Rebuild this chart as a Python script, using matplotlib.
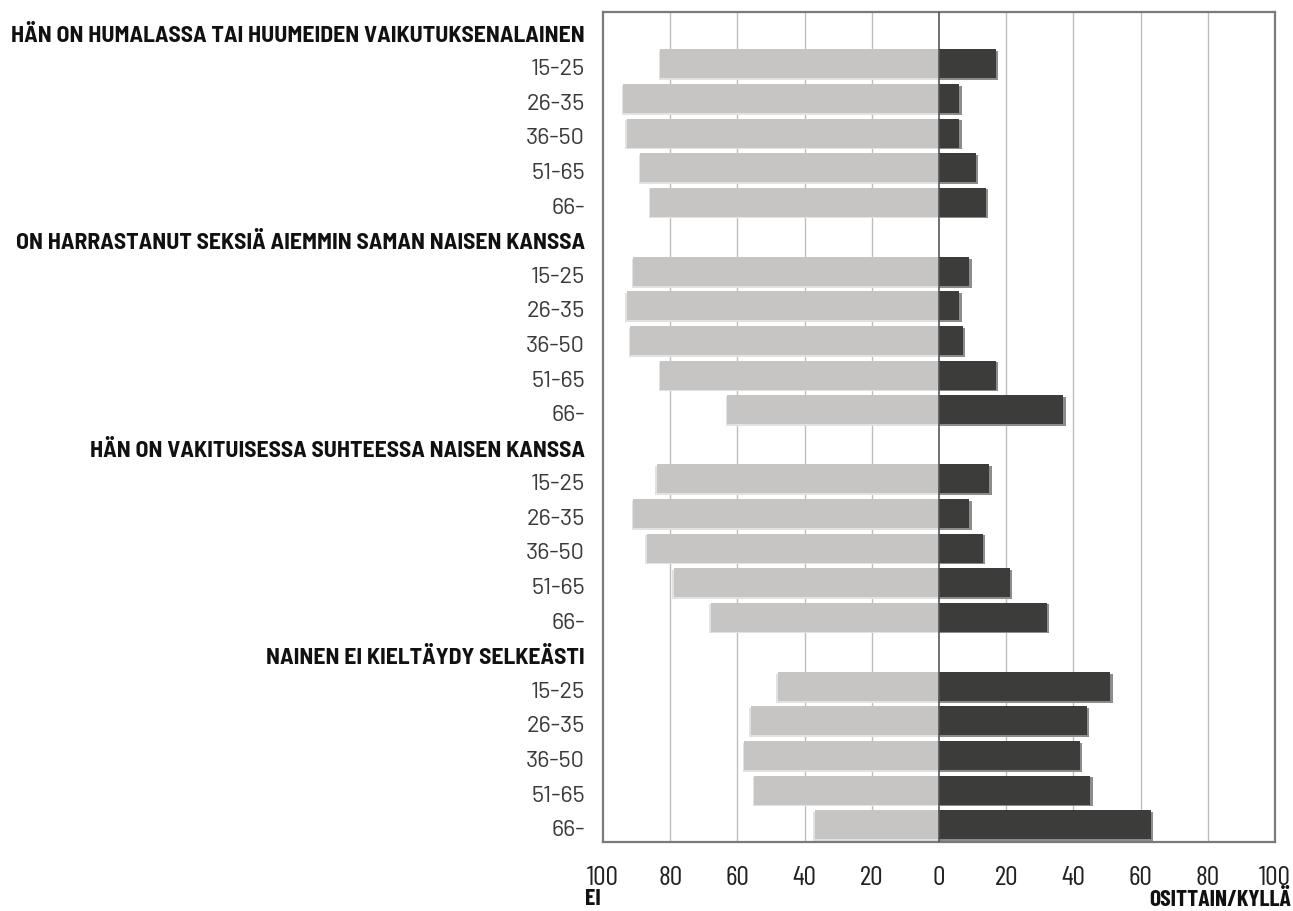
import matplotlib
matplotlib.use("Agg")
import matplotlib.pyplot as plt
import numpy as np

plt.rcParams['font.family'] = ['Barlow Semi Condensed', 'DejaVu Sans']
plt.rcParams['font.stretch'] = 'condensed'
F_HEAD = ['Barlow Semi Condensed', 'DejaVu Sans']
F_AGE = ['Barlow', 'DejaVu Sans']
F_TICK = ['Barlow Condensed', 'DejaVu Sans']

groups = ["HÄN ON HUMALASSA TAI HUUMEIDEN VAIKUTUKSENALAINEN",
          "ON HARRASTANUT SEKSIÄ AIEMMIN SAMAN NAISEN KANSSA",
          "HÄN ON VAKITUISESSA SUHTEESSA NAISEN KANSSA",
          "NAINEN EI KIELTÄYDY SELKEÄSTI"]
ages = ["15-25", "26-35", "36-50", "51-65", "66-"]
ei = [[83, 94, 93, 89, 86],
      [91, 93, 92, 83, 63],
      [84, 91, 87, 79, 68],
      [48, 56, 58, 55, 37]]
kylla = [[17, 6, 6, 11, 14],
         [9, 6, 7, 17, 37],
         [15, 9, 13, 21, 32],
         [51, 44, 42, 45, 63]]
xticks = [-100, -80, -60, -40, -20, 0, 20, 40, 60, 80, 100]
xticklabels = ["100", "80", "60", "40", "20", "0", "20", "40", "60", "80", "100"]
left_label = "EI"
right_label = "OSITTAIN/KYLLÄ"

W, H = 1293, 911
fig = plt.figure(figsize=(W / 100, H / 100), dpi=100)
ax = fig.add_axes([603 / W, (H - 842) / H, (1275 - 603) / W, (842 - 12) / H])

light = "#c6c5c3"
dark = "#3c3c3b"
bh = 0.84
label_shift = 0.17

ypos = []
labels = []
y = 0
for g, name in enumerate(groups):
    labels.append((y, name, True))
    y += 1
    for a, age in enumerate(ages):
        ypos.append(y)
        labels.append((y, age, False))
        y += 1
nslots = y

ei_flat = np.array([v for row in ei for v in row], dtype=float)
ky_flat = np.array([v for row in kylla for v in row], dtype=float)
ypos = np.array(ypos, dtype=float)

# soft drop shadows
ax.barh(ypos + 0.05, -ei_flat - 0.4, height=bh, color="#e2e2e2", zorder=2, linewidth=0)
ax.barh(ypos + 0.05, ky_flat + 0.7, height=bh, color="#8c8c8c", zorder=2, linewidth=0)
# bars
ax.barh(ypos, -ei_flat, height=bh, color=light, zorder=3, linewidth=0)
ax.barh(ypos, ky_flat, height=bh, color=dark, zorder=3, linewidth=0)

for xt in xticks:
    if xt == 0:
        ax.axvline(0, color="#555555", lw=1.2, zorder=4)
    elif abs(xt) != 100:
        ax.axvline(xt, color="#bdbdbd", lw=1.0, zorder=1)

ax.set_xlim(-100, 100)
ax.set_ylim(nslots - 0.5, -0.5)
ax.set_yticks([])
ax.set_xticks(xticks)
ax.set_xticklabels(xticklabels, fontsize=20, color="#222222", family=F_TICK)
ax.tick_params(axis='x', length=0, pad=17)
for s in ax.spines.values():
    s.set_color("#7a7a7a")
    s.set_linewidth(1.6)

for yy, txt, is_head in labels:
    if is_head:
        ax.text(-0.027, yy + label_shift, txt, transform=ax.get_yaxis_transform(), ha="right",
                va="center", fontsize=17, fontweight="bold", color="#111111", family=F_HEAD)
    else:
        ax.text(-0.027, yy + label_shift, txt, transform=ax.get_yaxis_transform(), ha="right",
                va="center", fontsize=17, color="#3a3a3a", family=F_AGE)

fig.text(585 / W, 1 - 899 / H, left_label, ha="left", va="center", fontsize=17,
         fontweight="bold", color="#111111", family=F_TICK)
fig.text(1291 / W, 1 - 899 / H, right_label, ha="right", va="center", fontsize=17,
         fontweight="bold", color="#111111", family=F_TICK)

fig.savefig("out.png", dpi=100)
